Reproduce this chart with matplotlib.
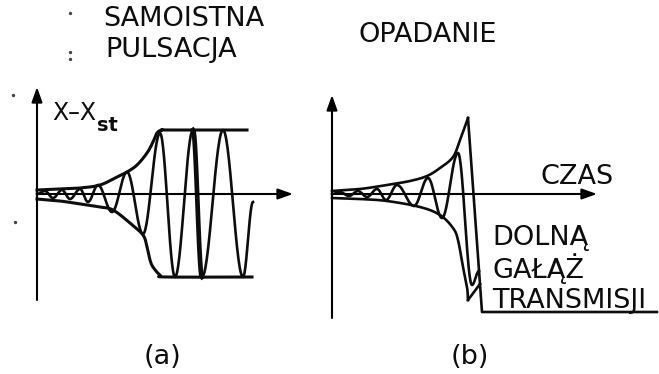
import numpy as np
import matplotlib.pyplot as plt

plt.rcParams['font.family'] = ['DejaVu Sans']

# ---- (a) self-sustained pulsation ----
# turning points of the oscillation: time, deviation x - x_st
osc_a_t = [0, 8, 16, 25, 33, 43, 51, 61, 75, 90, 106, 123, 138, 156, 165, 186, 206, 216]
osc_a_x = [0, 3, -4, 4, -5, 5, -8, 9, -18, 22, -40, 61, -83, 64, -83, 64, -83, -8]
# upper / lower envelope, ending on the saturation levels
env_a_up_t = [0, 23, 43, 63, 80, 90, 100, 110, 116, 120, 125, 133, 210]
env_a_up_x = [4, 5, 6, 9, 17, 22, 29, 41, 52, 61, 64, 64, 64]
env_a_lo_t = [0, 23, 43, 63, 76, 93, 106, 110, 113, 116, 123, 130, 215]
env_a_lo_x = [-5, -7, -10, -13, -16, -29, -41, -53, -66, -73, -81, -83, -83]

# ---- (b) falling to the lower transmission branch ----
osc_b_t = [0, 8, 17, 26, 35, 45, 54, 65, 82, 96, 110, 126, 140, 147]
osc_b_x = [0, 2, -2, 3, -3, 5, -6, 9, -12, 16, -24, 41, -91, -77]
env_b_up_t = [0, 28, 55, 78, 95, 108, 121, 128, 136]
env_b_up_x = [3, 5, 9, 13, 18, 26, 37, 54, 76]
env_b_lo_t = [0, 28, 55, 88, 108, 121, 126, 131, 135, 136]
env_b_lo_x = [-4, -5, -7, -13, -21, -34, -46, -73, -93, -106]
# drop from the top of the envelope down to the lower branch
branch_t = [136, 150, 325]
branch_x = [76, -118, -118]
# short closing edge at the foot of the lower envelope
foot_t = [136, 148]
foot_x = [-106, -90]


def smooth(t, x, n=24):
    # Catmull-Rom spline through the given points
    pts = np.column_stack([t, x]).astype(float)
    p = np.vstack([pts[0], pts, pts[-1]])
    s = np.linspace(0, 1, n, endpoint=False)[:, None]
    out = []
    for i in range(1, len(p) - 2):
        p0, p1, p2, p3 = p[i - 1], p[i], p[i + 1], p[i + 2]
        out.append(0.5 * (2 * p1 + (-p0 + p2) * s
                          + (2 * p0 - 5 * p1 + 4 * p2 - p3) * s ** 2
                          + (-p0 + 3 * p1 - 3 * p2 + p3) * s ** 3))
    out.append(pts[-1:])
    c = np.vstack(out)
    return c[:, 0], c[:, 1]


def wave(t, x, n=30):
    # half-cosine swing between consecutive turning points
    s = np.linspace(0, 1, n, endpoint=False)
    tt, xx = [], []
    for i in range(len(t) - 1):
        tt.append(t[i] + (t[i + 1] - t[i]) * s)
        xx.append(x[i] + (x[i + 1] - x[i]) * (1 - np.cos(np.pi * s)) / 2)
    tt.append([t[-1]])
    xx.append([x[-1]])
    return np.concatenate(tt), np.concatenate(xx)


def axis_arrow(ax, start, tip):
    ax.annotate('', xy=tip, xytext=start, annotation_clip=False,
                arrowprops=dict(arrowstyle='-|>,head_length=0.9,head_width=0.32',
                                lw=1.5, color='black', shrinkA=0, shrinkB=0))


fig = plt.figure(figsize=(6.59, 3.74), dpi=100)
ax_a = fig.add_axes([0, 0, 330 / 659, 1])
ax_b = fig.add_axes([330 / 659, 0, 329 / 659, 1])
ax_a.set_xlim(-37, 293)
ax_b.set_xlim(-2, 327)
for ax in (ax_a, ax_b):
    ax.set_ylim(-180, 194)
    ax.axis('off')

lw = 1.9
ink = '#0d0d0d'
txt = dict(fontsize=19.5, color=ink)

# panel (a)
axis_arrow(ax_a, (0, -106), (0, 107))
axis_arrow(ax_a, (0, 0), (256, 0))
ax_a.plot(*smooth(env_a_up_t, env_a_up_x), color=ink, lw=lw + 0.3)
ax_a.plot(*smooth(env_a_lo_t, env_a_lo_x), color=ink, lw=lw + 0.3)
ax_a.plot(*wave(osc_a_t, osc_a_x), color=ink, lw=lw)
# one stroke of the saturated swing comes out heavier
ax_a.plot(*wave(osc_a_t[13:15], osc_a_x[13:15]), color=ink, lw=3.4)

ax_a.text(66, 175, 'SAMOISTNA', ha='left', va='center', **txt)
ax_a.text(68, 144, 'PULSACJA', ha='left', va='center', **txt)
lbl = ax_a.text(15, 74, 'X–X', ha='left', va='baseline', fontsize=17, color=ink)
ax_a.annotate('st', xy=(1, 0), xycoords=lbl, xytext=(1, -4), textcoords='offset points',
              ha='left', va='baseline', fontsize=14, fontweight='bold', color=ink)
ax_a.text(126, -163, '(a)', ha='center', va='center', **txt)
# stray dots
ax_a.plot([33, 33, 33, -24, -22], [181, 142, 135, 99, -28], 'o', ms=1.4, color='#444444')

# panel (b)
axis_arrow(ax_b, (0, -124), (0, 99))
axis_arrow(ax_b, (0, 0), (265, 0))
ax_b.plot(*smooth(env_b_up_t, env_b_up_x), color=ink, lw=lw)
ax_b.plot(*smooth(env_b_lo_t, env_b_lo_x), color=ink, lw=lw)
ax_b.plot(branch_t, branch_x, color=ink, lw=lw)
ax_b.plot(foot_t, foot_x, color=ink, lw=lw)
ax_b.plot(*wave(osc_b_t, osc_b_x), color=ink, lw=lw)

ax_b.text(27, 159, 'OPADANIE', ha='left', va='center', **txt)
ax_b.text(208, 17, 'CZAS', ha='left', va='center', **txt)
ax_b.text(160, -51, 'DOLNĄ', ha='left', va='baseline', **txt)
ax_b.text(160, -84, 'GAŁĄŻ', ha='left', va='baseline', **txt)
ax_b.text(160, -114, 'TRANSMISJI', ha='left', va='baseline', **txt)
ax_b.text(138, -163, '(b)', ha='center', va='center', **txt)

fig.savefig('out.png', dpi=100, facecolor='white')
